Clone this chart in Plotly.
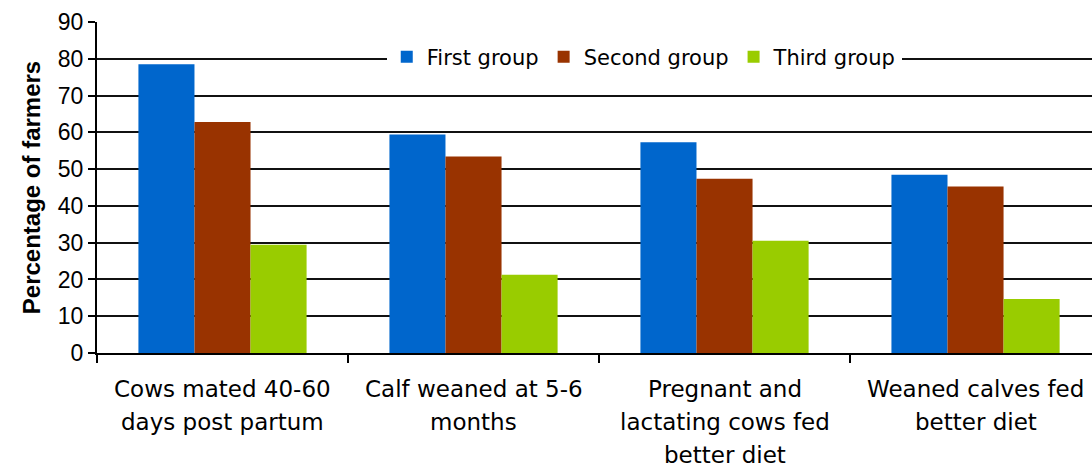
import plotly.graph_objects as go

categories = [
    "Cows mated 40-60 days post partum",
    "Calf weaned at 5-6 months",
    "Pregnant and lactating cows fed better diet",
    "Weaned calves fed better diet",
]
category_lines = [
    ["Cows mated 40-60", "days post partum"],
    ["Calf weaned at 5-6", "months"],
    ["Pregnant and", "lactating cows fed", "better diet"],
    ["Weaned calves fed", "better diet"],
]
series_names = ["First group", "Second group", "Third group"]
first_group = [78.5, 59.4, 57.3, 48.5]
second_group = [62.8, 53.4, 47.4, 45.3]
third_group = [29.4, 21.3, 30.5, 14.7]
series_values = [first_group, second_group, third_group]
colors = ["#0066CC", "#993300", "#99CC00"]
y_ticks = [0, 10, 20, 30, 40, 50, 60, 70, 80, 90]

fig = go.Figure()
for name, vals, col in zip(series_names, series_values, colors):
    fig.add_trace(go.Bar(x=categories, y=vals, name=name, marker=dict(color=col, line=dict(width=0))))

annotations = []
for cat, lines in zip(categories, category_lines):
    for j, line in enumerate(lines):
        annotations.append(dict(
            x=cat, xref="x", y=0, yref="paper", yanchor="middle", xanchor="center",
            yshift=-36 - 33 * j, text=line, showarrow=False,
            font=dict(family="DejaVu Sans", size=23, color="#000000"),
        ))

fig.update_layout(
    width=1092, height=469,
    margin=dict(l=97, r=0, t=22, b=116),
    paper_bgcolor="white", plot_bgcolor="white",
    barmode="group", bargap=0.33, bargroupgap=0,
    showlegend=True,
    legend=dict(
        orientation="h", x=0.55, xanchor="center", y=0.894, yanchor="middle",
        bgcolor="white", font=dict(family="DejaVu Sans", size=21, color="#000000"),
        itemsizing="constant", itemwidth=30, tracegroupgap=0,
    ),
    annotations=annotations,
    xaxis=dict(
        type="category", range=[-0.5, 3.464], showticklabels=False,
        showline=True, linecolor="black", linewidth=2,
        ticks="outside", tickson="boundaries", ticklen=8, tickwidth=2, tickcolor="black",
        showgrid=False, zeroline=False,
    ),
    yaxis=dict(
        range=[0, 90], tickvals=y_ticks,
        showline=True, linecolor="black", linewidth=2,
        ticks="outside", ticklen=7, tickwidth=2, tickcolor="black",
        showgrid=True, gridcolor="#111111", gridwidth=2,
        zeroline=False,
        tickfont=dict(family="Liberation Sans, Arial", size=23, color="#000000"),
        title=dict(text="<b>Percentage of farmers</b>", standoff=10,
                   font=dict(family="Liberation Sans, Arial", size=24, color="#000000")),
    ),
)

fig.write_html(
    "out.html",
    config={"displayModeBar": False},
    post_script="document.body.style.margin='0';document.body.style.overflow='hidden';",
)
